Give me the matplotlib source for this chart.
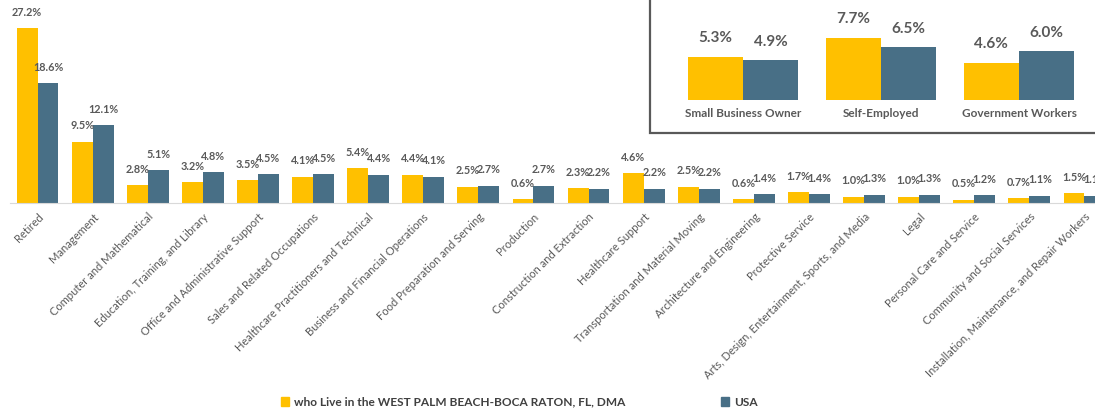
import matplotlib
matplotlib.use("Agg")
import matplotlib.pyplot as plt
import matplotlib.patches as mpatches
import numpy as np

plt.rcParams['font.family'] = ['Lato', 'DejaVu Sans']

categories = ["Retired", "Management", "Computer and Mathematical",
              "Education, Training, and Library", "Office and Administrative Support",
              "Sales and Related Occupations", "Healthcare Practitioners and Technical",
              "Business and Financial Operations", "Food Preparation and Serving",
              "Production", "Construction and Extraction", "Healthcare Support",
              "Transportation and Material Moving", "Architecture and Engineering",
              "Protective Service", "Arts, Design, Entertainment, Sports, and Media",
              "Legal", "Personal Care and Service", "Community and Social Services",
              "Installation, Maintenance, and Repair Workers"]
local_vals = [27.2, 9.5, 2.8, 3.2, 3.5, 4.1, 5.4, 4.4, 2.5, 0.6, 2.3, 4.6, 2.5,
              0.6, 1.7, 1.0, 1.0, 0.5, 0.7, 1.5]
usa_vals = [18.6, 12.1, 5.1, 4.8, 4.5, 4.5, 4.4, 4.1, 2.7, 2.7, 2.2, 2.2, 2.2,
            1.4, 1.4, 1.3, 1.3, 1.2, 1.1, 1.1]

inset_categories = ["Small Business Owner", "Self-Employed", "Government Workers"]
inset_local = [5.3, 7.7, 4.6]
inset_usa = [4.9, 6.5, 6.0]

series_names = ["who Live in the WEST PALM BEACH-BOCA RATON, FL, DMA", "USA"]

YELLOW = "#FFC000"
BLUE = "#486F86"
TXT = "#595959"

W, H = 1095, 411
fig = plt.figure(figsize=(W / 100, H / 100), dpi=100)

# main axes
ax = fig.add_axes([10 / W, 1 - 203 / H, 1085 / W, 203 / H])
ax.set_zorder(0)
x = np.arange(len(categories))
bw = 0.38
b1 = ax.bar(x - bw / 2, local_vals, bw, color=YELLOW)
b2 = ax.bar(x + bw / 2, usa_vals, bw, color=BLUE)
ax.set_xlim(-0.5, -0.5 + 1085 / 55.1)
ax.set_ylim(0, 203 / 6.43)
for bars, vals in ((b1, local_vals), (b2, usa_vals)):
    for r, v in zip(bars, vals):
        ax.annotate(f"{v:.1f}%", (r.get_x() + r.get_width() / 2, v),
                    xytext=(0, 11.5), textcoords="offset points",
                    ha="center", va="center", fontsize=7.8, fontweight="bold",
                    color=TXT)
for s in ["top", "right", "left"]:
    ax.spines[s].set_visible(False)
ax.spines["bottom"].set_color("#D9D9D9")
ax.set_yticks([])
ax.set_xticks(x)
ax.set_xticklabels(categories, rotation=45, ha="right", rotation_mode="anchor",
                   fontsize=8, color=TXT)
ax.tick_params(axis="x", length=0, pad=6)

# inset box
rect = mpatches.Rectangle((650 / W, 1 - 133 / H), 460 / W, 140 / H,
                          transform=fig.transFigure, facecolor="white",
                          edgecolor="#595959", lw=1.6, zorder=1)
fig.patches.append(rect)

ax2 = fig.add_axes([650 / W, 1 - 100 / H, 445 / W, 100 / H])
ax2.set_zorder(2)
ax2.patch.set_alpha(0)
xi = np.arange(len(inset_categories))
iw = 0.4
c1 = ax2.bar(xi - iw / 2, inset_local, iw, color=YELLOW)
c2 = ax2.bar(xi + iw / 2, inset_usa, iw, color=BLUE)
ax2.set_xlim((650 - 743) / 138, (1095 - 743) / 138)
ax2.set_ylim(0, 100 / 8.1)
for bars, vals in ((c1, inset_local), (c2, inset_usa)):
    for r, v in zip(bars, vals):
        ax2.annotate(f"{v:.1f}%", (r.get_x() + r.get_width() / 2, v),
                     xytext=(0, 13.5), textcoords="offset points",
                     ha="center", va="center", fontsize=11, fontweight="bold",
                     color=TXT)
for s in ax2.spines.values():
    s.set_visible(False)
ax2.set_yticks([])
ax2.set_xticks(xi)
ax2.set_xticklabels(inset_categories, fontsize=8.5, fontweight="bold", color=TXT)
ax2.tick_params(axis="x", length=0, pad=6)

# legend
handles = [mpatches.Patch(color=YELLOW), mpatches.Patch(color=BLUE)]
fig.legend(handles, series_names, loc="center", bbox_to_anchor=(519 / W, 1 - 402 / H),
           ncol=2, frameon=False, handlelength=0.7, handleheight=0.7,
           handletextpad=0.4, columnspacing=8,
           prop={"size": 8.6, "weight": "bold"}, labelcolor="#404040")

fig.savefig("out.png", dpi=100)
